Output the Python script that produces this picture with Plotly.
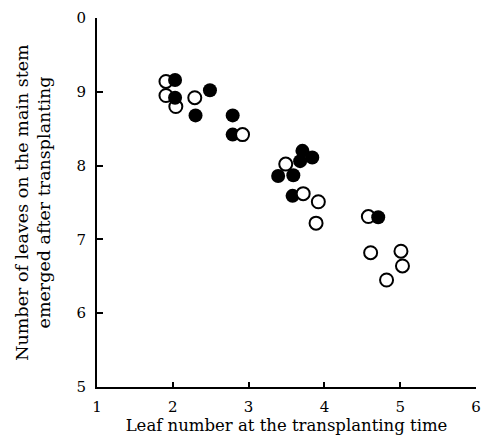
import plotly.graph_objects as go

# Filled circles
filled_x = [2.03, 2.03, 2.49, 2.30, 2.79, 2.79, 3.71, 3.84, 3.68, 3.39, 3.59, 3.58, 4.71]
filled_y = [9.16, 8.92, 9.02, 8.68, 8.68, 8.42, 8.20, 8.11, 8.06, 7.86, 7.87, 7.59, 7.30]

# Open circles drawn beneath the filled ones
open_x = [1.91, 1.91, 2.04, 2.29, 3.49, 4.58, 3.92, 3.89, 4.61, 5.01, 5.03, 4.82]
open_y = [9.14, 8.95, 8.80, 8.92, 8.02, 7.31, 7.51, 7.22, 6.82, 6.84, 6.64, 6.45]

# Open circles drawn on top of filled ones
open_top_x = [2.92, 3.72]
open_top_y = [8.42, 7.62]

x_ticks = [1, 2, 3, 4, 5, 6]
y_ticks = [5, 6, 7, 8, 9, 10]
y_ticktext = ["5", "6", "7", "8", "9", "0"]

font_family = "DejaVu Serif"

fig = go.Figure()
open_marker = dict(symbol="circle", size=13, color="white",
                   line=dict(color="black", width=2))
fig.add_trace(go.Scatter(x=open_x, y=open_y, mode="markers",
                         marker=open_marker, showlegend=False))
fig.add_trace(go.Scatter(x=filled_x, y=filled_y, mode="markers",
                         marker=dict(symbol="circle", size=14, color="black",
                                     line=dict(color="black", width=0)),
                         showlegend=False))
fig.add_trace(go.Scatter(x=open_top_x, y=open_top_y, mode="markers",
                         marker=open_marker, showlegend=False))

fig.update_layout(
    width=485, height=443,
    margin=dict(l=97, r=9, t=11, b=56),
    paper_bgcolor="white", plot_bgcolor="white",
    font=dict(family=font_family, color="black", size=15),
)
fig.update_xaxes(
    range=[1, 6], tickvals=x_ticks, ticktext=[str(v) for v in x_ticks],
    showline=True, linecolor="black", linewidth=1.5,
    ticks="inside", ticklen=5, tickcolor="black", tickwidth=1.5,
    showgrid=False, zeroline=False, ticklabelstandoff=5, automargin=False,
    title=dict(text="Leaf number at the transplanting time",
               font=dict(size=16.5, family=font_family), standoff=4),
    tickfont=dict(size=15),
)
fig.update_yaxes(
    range=[5, 10], tickvals=y_ticks, ticktext=y_ticktext,
    showline=True, linecolor="black", linewidth=2,
    ticks="inside", ticklen=6, tickcolor="black", tickwidth=1.5,
    showgrid=False, zeroline=False, ticklabelstandoff=6,
    title=dict(text="Number of leaves on the main stem<br>emerged after transplanting",
               font=dict(size=17.5, family=font_family), standoff=21),
    tickfont=dict(size=15),
)

fig.write_html("out.html")
